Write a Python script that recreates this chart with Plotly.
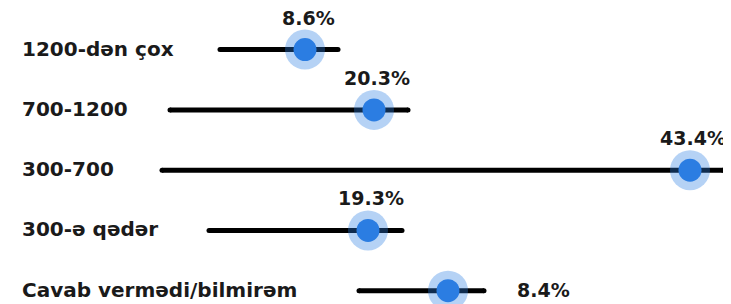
import plotly.graph_objects as go

categories = ["1200-dən çox", "700-1200", "300-700", "300-ə qədər", "Cavab vermədi/bilmirəm"]
values = [8.6, 20.3, 43.4, 19.3, 8.4]
value_labels = ["8.6%", "20.3%", "43.4%", "19.3%", "8.4%"]
# range extents and point positions on an abstract 0-73.1 scale
low = [22.0, 17.0, 16.2, 20.9, 35.9]
high = [33.8, 40.8, 72.3, 40.2, 48.4]
mid = [30.5, 37.4, 69.0, 36.8, 44.8]

FONT = "DejaVu Sans"
fig = go.Figure()

xs, ys = [], []
for c, lo, hi in zip(categories, low, high):
    xs += [lo, hi, None]
    ys += [c, c, None]
fig.add_trace(go.Scatter(x=xs, y=ys, mode="lines+markers",
                         line=dict(color="#000000", width=5),
                         marker=dict(color="#000000", size=5),
                         hoverinfo="skip", showlegend=False))
fig.add_trace(go.Scatter(x=mid, y=categories, mode="markers",
                         marker=dict(color="rgba(42,125,225,0.35)", size=40, line=dict(width=0)),
                         hoverinfo="skip", showlegend=False))
fig.add_trace(go.Scatter(x=mid, y=categories, mode="markers",
                         marker=dict(color="#2b7de2", size=23, line=dict(width=0)),
                         customdata=values, hovertemplate="%{y}: %{customdata}%<extra></extra>",
                         showlegend=False))

for i, (c, m, h, lab) in enumerate(zip(categories, mid, high, value_labels)):
    if i == len(categories) - 1:
        fig.add_annotation(x=h, y=c, text="<b>" + lab + "</b>", showarrow=False, xanchor="left",
                           xshift=31, yshift=1, font=dict(family=FONT, size=19, color="#1a1a1a"))
    else:
        fig.add_annotation(x=m, y=c, text="<b>" + lab + "</b>", showarrow=False, xanchor="center",
                           xshift=3, yshift=32, font=dict(family=FONT, size=19, color="#1a1a1a"))
    fig.add_annotation(xref="paper", x=12 / 723, y=c, text="<b>" + c + "</b>", showarrow=False,
                       xanchor="left", yshift=1, font=dict(family=FONT, size=20, color="#1a1a1a"))

fig.update_layout(
    width=723, height=296,
    margin=dict(l=0, r=0, t=0, b=0),
    paper_bgcolor="white", plot_bgcolor="white",
    xaxis=dict(range=[0.8, 73.1], visible=False, fixedrange=True),
    yaxis=dict(type="category", categoryorder="array", categoryarray=categories,
               range=[4.22, -0.69], visible=False, fixedrange=True),
)
fig.write_html("out.html")
